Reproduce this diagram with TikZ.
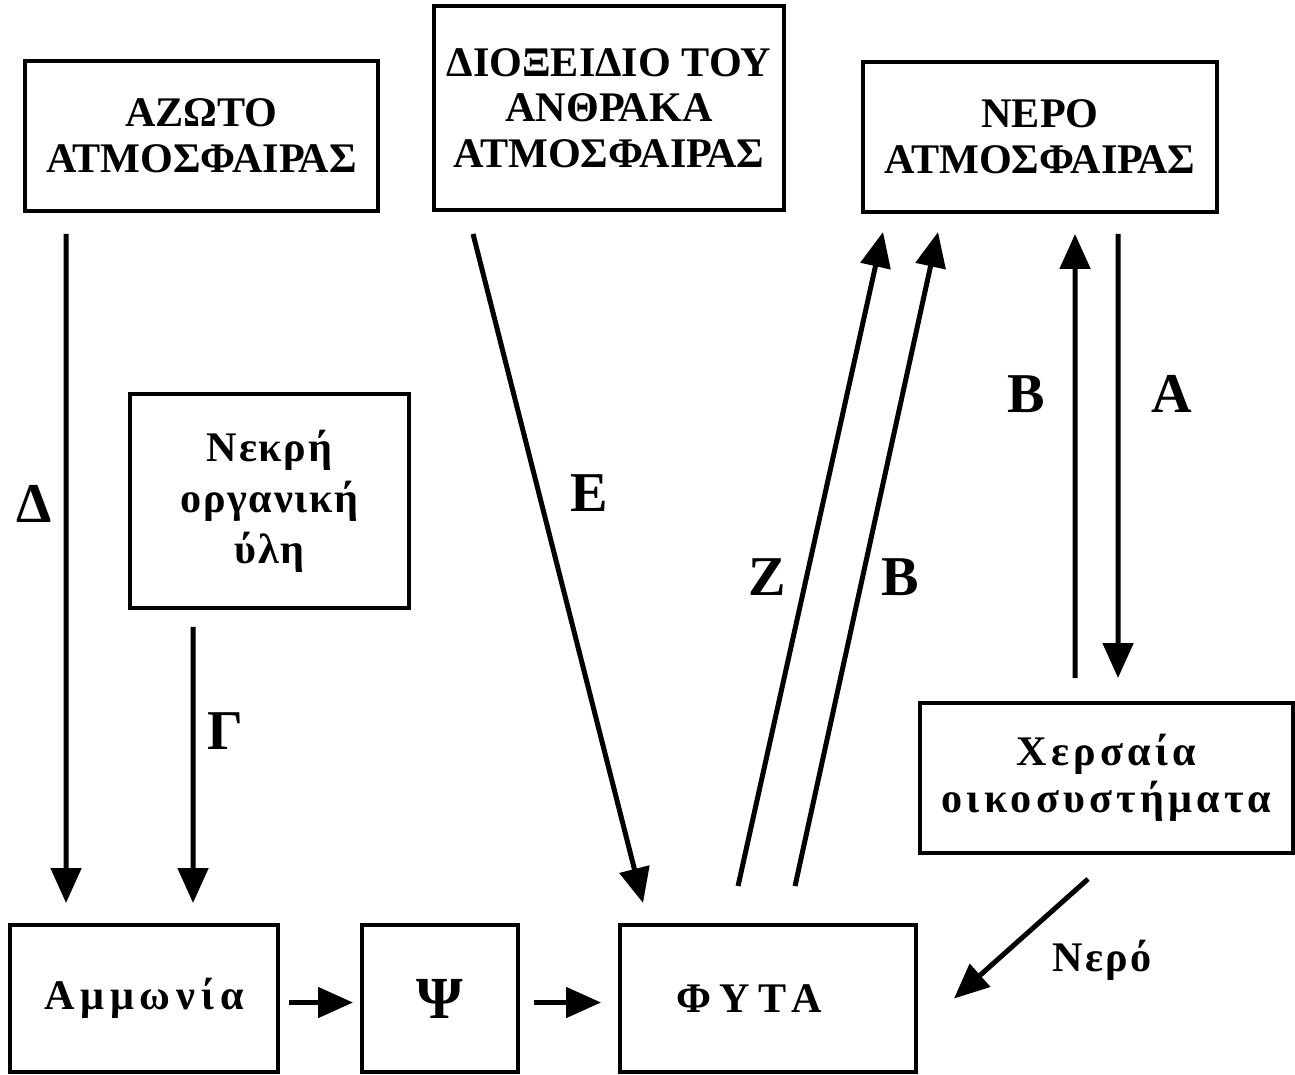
\documentclass[tikz,border=0pt]{standalone}
\usepackage{fontspec}
\setmainfont{Liberation Serif}
\usetikzlibrary{arrows.meta,calc}

\begin{document}
\begin{tikzpicture}[x=0.02cm,y=-0.02cm,
    box/.style={draw,line width=0.08cm,inner sep=0pt,align=center,
      font=\fontsize{24}{26}\selectfont\bfseries},
    spaced/.style={font=\fontsize{24}{#1}\selectfont\bfseries\addfontfeature{LetterSpace=10}},
    flow/.style={line width=0.1cm,-{Triangle[length=0.7cm,width=0.6cm]}},
    biglbl/.style={font=\fontsize{32}{32}\selectfont\bfseries},
    smalllbl/.style={font=\fontsize{24}{26}\selectfont\bfseries\addfontfeature{LetterSpace=5}}]
    \useasboundingbox (0,0) rectangle (1295,1075);

    % top row
    \node[box,minimum width=7.06cm,minimum height=3cm] (azoto) at (201.5,136) {ΑΖΩΤΟ\\ΑΤΜΟΣΦΑΙΡΑΣ};
    \node[box,minimum width=7cm,minimum height=4.08cm] (dioxide) at (609,108) {ΔΙΟΞΕΙΔΙΟ ΤΟΥ\\ΑΝΘΡΑΚΑ\\ΑΤΜΟΣΦΑΙΡΑΣ};
    \node[box,minimum width=7.08cm,minimum height=3cm] (nero) at (1040,137) {ΝΕΡΟ\\ΑΤΜΟΣΦΑΙΡΑΣ};

    % middle
    \node[box,minimum width=5.58cm,minimum height=4.28cm,
      font=\fontsize{24}{29}\selectfont\bfseries\addfontfeature{LetterSpace=4}] (nekri) at (269.5,501) {Νεκρή\\οργανική\\ύλη};
    \node[box,spaced=27,minimum width=7.46cm,minimum height=3cm] (xersaia) at (1106.5,778) {Χερσαία\\οικοσυστήματα};

    % bottom row
    \node[box,minimum width=5.36cm,minimum height=2.94cm,
      font=\fontsize{24}{26}\selectfont\bfseries\addfontfeature{LetterSpace=14}] (ammonia) at (144,998.5) {\raisebox{-0.1cm}{Αμμωνία}};
    \node[box,minimum width=3.12cm,minimum height=2.94cm,
      font=\fontsize{34}{34}\selectfont\bfseries] (psi) at (440,998.5) {\raisebox{-0.1cm}{Ψ}};
    \node[box,minimum width=5.92cm,minimum height=2.94cm,
      font=\fontsize{24}{26}\selectfont\bfseries\addfontfeature{LetterSpace=20}] (fyta) at (768,998.5) {\hspace*{-0.75cm}\raisebox{-0.1cm}{ΦΥΤΑ}};

    % connectors
    \draw[flow] ($(azoto.south west)+(43,21)$) -- ($(ammonia.north west)+(58,-20)$);
    \draw[flow] ($(nekri.south west)+(65,17)$) -- ($(ammonia.north west)+(185,-20)$);
    \draw[flow] ($(dioxide.south west)+(41,22)$) -- ($(fyta.north west)+(25,-20)$);
    \draw[flow] ($(fyta.north west)+(120,-37)$) -- ($(nero.south west)+(22,18)$);
    \draw[flow] ($(fyta.north west)+(177,-37)$) -- ($(nero.south west)+(77,18)$);
    \draw[flow] ($(xersaia.north west)+(157,-23)$) -- ($(nero.south west)+(214,20)$);
    \draw[flow] ($(nero.south west)+(257,20)$) -- ($(xersaia.north west)+(200,-23)$);
    \draw[flow] ($(xersaia.south west)+(170,24)$) -- ($(fyta.east)+(36,0)$);
    \draw[flow,shorten <=0.18cm,shorten >=0.14cm] ($(ammonia.east)+(0,4)$) -- ($(psi.west)+(0,4)$);
    \draw[flow,shorten <=0.28cm,shorten >=0.34cm] ($(psi.east)+(0,4)$) -- ($(fyta.west)+(0,4)$);

    % labels
    \node[biglbl] (lblD) at (34,504) {Δ};
    \node[biglbl] (lblG) at (225,731) {Γ};
    \node[biglbl] (lblE) at (589,493) {Ε};
    \node[biglbl] (lblZ) at (767,577) {Ζ};
    \node[biglbl] (lblBa) at (900,577) {Β};
    \node[biglbl] (lblBb) at (1026,394) {Β};
    \node[biglbl] (lblA) at (1172,394) {Α};
    \node[smalllbl] (lblNero) at (1102,960) {Νερό};
\end{tikzpicture}
\end{document}
